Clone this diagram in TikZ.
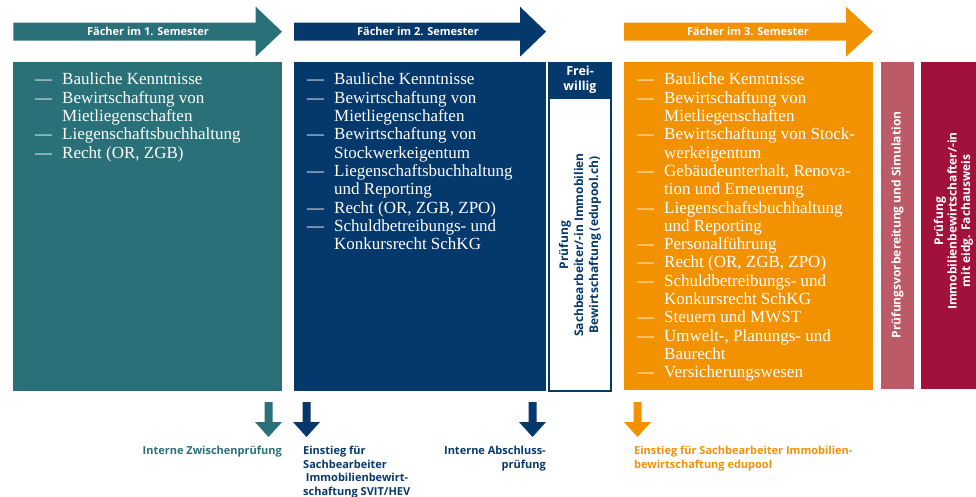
\documentclass[tikz,border=0pt]{standalone}
\usepackage{fontspec}
\setmainfont{Liberation Serif}
\setsansfont{Open Sans}
\usepackage{tikz}

\definecolor{semteal}{RGB}{41,112,120}
\definecolor{semnavy}{RGB}{5,56,107}
\definecolor{semorange}{RGB}{242,146,0}
\definecolor{simrose}{RGB}{189,90,104}
\definecolor{examred}{RGB}{161,17,59}

\tikzset{
	bandtext/.style={text=white, inner sep=0pt, font=\sffamily\bfseries\fontsize{11}{12}\selectfont},
	fachlist/.style={anchor=base west, text=white, inner sep=0pt, font=\fontsize{17}{18.3}\selectfont},
	sidetext/.style={rotate=90, align=center, inner sep=0pt, font=\sffamily\bfseries\fontsize{12}{#1}\selectfont},
	steplabel/.style={inner sep=0pt, font=\sffamily\bfseries\fontsize{11}{13.5}\selectfont}
}

\begin{document}
\begin{tikzpicture}[x=1pt, y=-1pt]
		\useasboundingbox (0,0) rectangle (976,497);
	
		% Draw the semester arrows
		\fill[semteal] (13.3,22.7) -- (255.7,22.7) -- (255.7,6.7) -- (282,31.7) -- (255.7,56.7) -- (255.7,40.7) -- (13.3,40.7) -- cycle;
		\fill[semnavy] (294,22.7) -- (520,22.7) -- (520,6.7) -- (546,31.7) -- (520,56.7) -- (520,40.7) -- (294,40.7) -- cycle;
		\fill[semorange] (624,22.7) -- (846,22.7) -- (846,6.7) -- (873,31.7) -- (846,56.7) -- (846,40.7) -- (624,40.7) -- cycle;
		\node[bandtext] (sem1) at (148,31.7) {Fächer im 1. Semester};
		\node[bandtext] (sem2) at (418,31.7) {Fächer im 2. Semester};
		\node[bandtext] (sem3) at (748,31.7) {Fächer im 3. Semester};
	
		% Draw the subject boxes
		\fill[semteal] (13.3,61.7) rectangle (282,391);
		\fill[semnavy] (294,61.7) rectangle (546,391);
		\fill[semorange] (624,61.7) rectangle (873,390);
		\fill[simrose] (880.7,61.7) rectangle (914,389);
		\fill[examred] (921,61.7) rectangle (976,389);
	
		% Subjects of the 1. semester
		\node[fachlist] (list1) at (35,85) {\begin{tabular}[t]{@{}p{27pt}@{}l@{}}
			--- & Bauliche Kenntnisse\\
			--- & Bewirtschaftung von\\
			    & Mietliegenschaften\\
			--- & Liegenschaftsbuchhaltung\\
			--- & Recht (OR, ZGB)
		\end{tabular}};
	
		% Subjects of the 2. semester
		\node[fachlist] (list2) at (307,85) {\begin{tabular}[t]{@{}p{27pt}@{}l@{}}
			--- & Bauliche Kenntnisse\\
			--- & Bewirtschaftung von\\
			    & Mietliegenschaften\\
			--- & Bewirtschaftung von\\
			    & Stockwerkeigentum\\
			--- & Liegenschaftsbuchhaltung\\
			    & und Reporting\\
			--- & Recht (OR, ZGB, ZPO)\\
			--- & Schuldbetreibungs- und\\
			    & Konkursrecht SchKG
		\end{tabular}};
	
		% Subjects of the 3. semester
		\node[fachlist] (list3) at (637,85) {\begin{tabular}[t]{@{}p{27pt}@{}l@{}}
			--- & Bauliche Kenntnisse\\
			--- & Bewirtschaftung von\\
			    & Mietliegenschaften\\
			--- & Bewirtschaftung von Stock-\\
			    & werkeigentum\\
			--- & Gebäudeunterhalt, Renova-\\
			    & tion und Erneuerung\\
			--- & Liegenschaftsbuchhaltung\\
			    & und Reporting\\
			--- & Personalführung\\
			--- & Recht (OR, ZGB, ZPO)\\
			--- & Schuldbetreibungs- und\\
			    & Konkursrecht SchKG\\
			--- & Steuern und MWST\\
			--- & Umwelt-, Planungs- und\\
			    & Baurecht\\
			--- & Versicherungswesen
		\end{tabular}};
	
		% Draw the optional exam column
		\draw[semnavy, line width=1.5pt, fill=white] (549,62.5) rectangle (611,391);
		\fill[semnavy] (548.25,61.7) rectangle (611.75,99);
		\node[text=white, align=center, inner sep=0pt, font=\sffamily\bfseries\fontsize{12.5}{15}\selectfont] (frei) at (580,80) {Frei-\\willig};
		\node[sidetext=15, text=semnavy] (edupool) at (580,245) {Prüfung\\Sachbearbeiter/-in Immobilien\\Bewirtschaftung (edupool.ch)};
	
		% Label the preparation and the final exam
		\node[sidetext=13.5, text=white] (simul) at (897.5,225) {Prüfungsvorbereitung und Simulation};
		\node[sidetext=13.5, text=white] (fachausweis) at (953.5,221) {Prüfung\\Immobilienbewirtschafter/-in\\mit eidg. Fachausweis};
	
		% Draw the arrows below the boxes
		\foreach \ax/\acol in {268.5/semteal, 306.5/semnavy, 532.5/semnavy, 637.5/semorange}
			\fill[\acol] (\ax-4,402) -- (\ax+4,402) -- (\ax+4,422) -- (\ax+13.5,422) -- (\ax,437) -- (\ax-13.5,422) -- (\ax-4,422) -- cycle;
	
		% Label the steps
		\node[steplabel, text=semteal, anchor=north east] (zwischen) at (282,446) {Interne Zwischenprüfung};
		\node[steplabel, text=semnavy, anchor=north west, align=left] (svit) at (303,446) {Einstieg für\\Sachbearbeiter\\\hspace*{0.25em}Immobilienbewirt-\\schaftung SVIT/HEV};
		\node[steplabel, text=semnavy, anchor=north east, align=right] (abschluss) at (546,446) {Interne Abschluss-\\prüfung};
		\node[steplabel, text=semorange, anchor=north west, align=left] (einstieg) at (634,446) {Einstieg für Sachbearbeiter Immobilien-\\bewirtschaftung edupool};
	
	\end{tikzpicture}
\end{document}
